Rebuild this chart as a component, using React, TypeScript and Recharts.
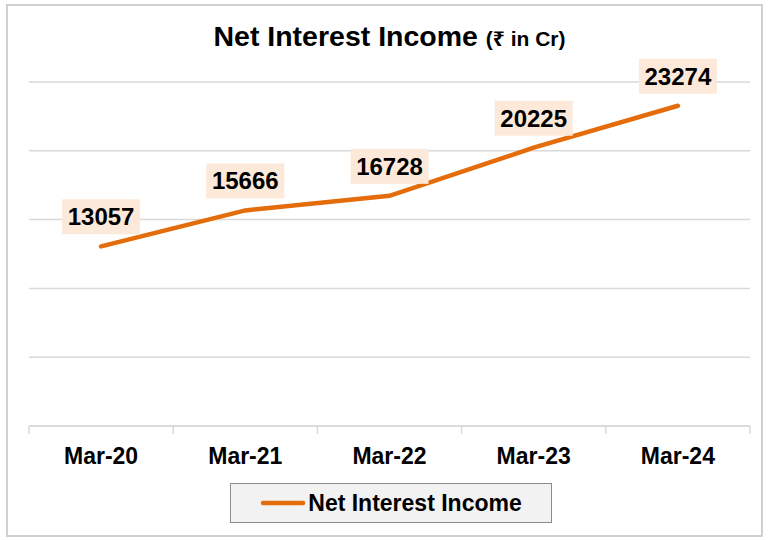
import React from 'react';
import { LineChart, Line, XAxis, YAxis, CartesianGrid, LabelList, Legend } from 'recharts';

const categories = ['Mar-20', 'Mar-21', 'Mar-22', 'Mar-23', 'Mar-24'];
const netInterestIncome = [13057, 15666, 16728, 20225, 23274];
const yTicks = [0, 5000, 10000, 15000, 20000, 25000];
const seriesName = 'Net Interest Income';

const data = categories.map((c, i) => ({ month: c, nii: netInterestIncome[i] }));

const W = 769;
const H = 540;
const MARGIN = { top: 82, right: 19, bottom: 74, left: 29 };
const FONT = '"Liberation Sans", Arial, "Noto Sans", "DejaVu Sans", sans-serif';
const ORANGE = '#E46C0A';
const GRID = '#D9D9D9';

const halfBand = (W - MARGIN.left - MARGIN.right) / categories.length / 2;

const AxisTick = (props: any) => {
  const { x, y, payload, index } = props;
  const last = index === categories.length - 1;
  return (
    <g>
      <line x1={x - halfBand} y1={y} x2={x - halfBand} y2={y + 8} stroke={GRID} strokeWidth={1.5} />
      {last && <line x1={x + halfBand} y1={y} x2={x + halfBand} y2={y + 8} stroke={GRID} strokeWidth={1.5} />}
      <text x={x} y={y + 38} textAnchor="middle" fontFamily={FONT} fontWeight="bold" fontSize={23} fill="#000">
        {payload.value}
      </text>
    </g>
  );
};

const ValueLabel = (props: any) => {
  const { x, y, value } = props;
  const bw = 78;
  const bh = 35;
  const gap = 12;
  return (
    <g>
      <rect x={x - bw / 2} y={y - gap - bh} width={bw} height={bh} fill="#FDE9D9" />
      <text x={x} y={y - gap - bh / 2 + 8.5} textAnchor="middle" fontFamily={FONT} fontWeight="bold" fontSize={24} fill="#000">
        {value}
      </text>
    </g>
  );
};

const LegendBox = () => (
  <div
    style={{
      width: 322,
      height: 40,
      boxSizing: 'border-box',
      background: '#F2F2F2',
      border: '1.5px solid #8C8C8C',
      display: 'flex',
      alignItems: 'center',
      justifyContent: 'center',
      fontFamily: FONT,
      fontWeight: 'bold',
      fontSize: 23,
      color: '#000',
    }}
  >
    <svg width={46} height={10} style={{ marginRight: 2 }}>
      <line x1={3} y1={5} x2={43} y2={5} stroke={ORANGE} strokeWidth={4.5} strokeLinecap="round" />
    </svg>
    <span>{seriesName}</span>
  </div>
);

export default function App() {
  return (
    <div style={{ position: 'absolute', left: 0, top: 0, width: W, height: H, background: '#fff' }}>
      <div
        style={{
          position: 'absolute',
          left: 6,
          top: 4,
          width: 757,
          height: 533,
          border: '2px solid #D0D0D0',
          boxSizing: 'border-box',
        }}
      />
      <div
        style={{
          position: 'absolute',
          left: MARGIN.left,
          width: W - MARGIN.left - MARGIN.right,
          top: 20,
          textAlign: 'center',
          fontFamily: FONT,
          fontWeight: 'bold',
          color: '#000',
          whiteSpace: 'nowrap',
        }}
      >
        <span style={{ fontSize: 28.5 }}>Net Interest Income </span>
        <span style={{ fontSize: 21 }}>(₹ in Cr)</span>
      </div>
      <div style={{ position: 'absolute', left: 0, top: 0 }}>
        <LineChart width={W} height={H} data={data} margin={MARGIN}>
          <CartesianGrid horizontal vertical={false} stroke={GRID} strokeWidth={1.5} />
          <XAxis
            dataKey="month"
            scale="band"
            height={40}
            axisLine={{ stroke: GRID, strokeWidth: 1.5 }}
            tickLine={false}
            tickSize={0}
            tickMargin={0}
            interval={0}
            tick={<AxisTick />}
          />
          <YAxis hide domain={[0, 25000]} ticks={yTicks} />
          <Legend
            layout="horizontal"
            verticalAlign="middle"
            align="center"
            wrapperStyle={{ left: 230, top: 483, width: 322, height: 40 }}
            content={<LegendBox />}
          />
          <Line
            type="linear"
            dataKey="nii"
            name={seriesName}
            stroke={ORANGE}
            strokeWidth={4.5}
            strokeLinecap="round"
            dot={false}
            activeDot={false}
            isAnimationActive={false}
          >
            <LabelList dataKey="nii" content={<ValueLabel />} />
          </Line>
        </LineChart>
      </div>
    </div>
  );
}
